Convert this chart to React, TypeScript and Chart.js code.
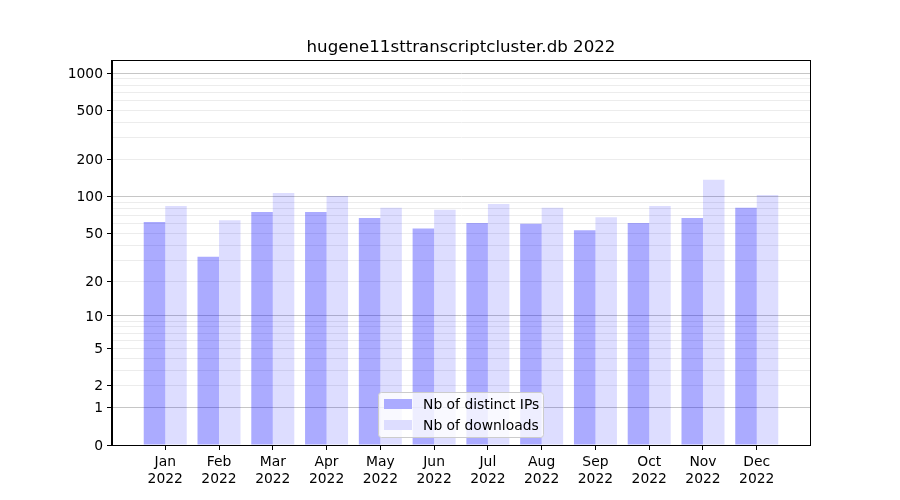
import React, { useEffect, useRef } from 'react';
import { Chart, registerables, LinearScale } from 'chart.js';

const TITLE = 'hugene11sttranscriptcluster.db 2022';
const MONTHS = ['Jan', 'Feb', 'Mar', 'Apr', 'May', 'Jun', 'Jul', 'Aug', 'Sep', 'Oct', 'Nov', 'Dec'];
const YEAR = '2022';
const DISTINCT_IPS = [62, 32, 75, 75, 67, 55, 61, 60, 53, 61, 67, 81];
const DOWNLOADS = [84, 64, 107, 101, 81, 78, 87, 81, 68, 84, 137, 103];
const SERIES_NAMES = ['Nb of distinct IPs', 'Nb of downloads'];
const Y_LABELED = [0, 1, 2, 5, 10, 20, 50, 100, 200, 500, 1000];
const Y_MAJOR_GRID = [1, 10, 100, 1000];
const Y_GRID = [0, 1, 2, 3, 4, 5, 6, 7, 8, 9, 10, 20, 30, 40, 50, 60, 70, 80, 90, 100, 200, 300, 400, 500, 600, 700, 800, 900, 1000];
const Y_MAX = 1279;

const BLUE = 'rgba(0,0,255,0.33)';
const LIGHT = 'rgba(0,0,255,0.135)';
const FONT = 'DejaVu Sans';

class Log1pScale extends LinearScale {
  static id = 'log1p';
  static defaults = {};
  configure() {
    super.configure();
    (this as any)._tStart = Math.log10(1 + (this as any).min);
    (this as any)._tRange = Math.log10(1 + (this as any).max) - (this as any)._tStart;
  }
  getPixelForValue(value: any) {
    if (value === undefined || value === null || isNaN(value)) return NaN;
    const t = (Math.log10(1 + value) - (this as any)._tStart) / (this as any)._tRange;
    return (this as any).getPixelForDecimal(t);
  }
  getValueForPixel(pixel: number) {
    const d = (this as any).getDecimalForPixel(pixel);
    return Math.pow(10, (this as any)._tStart + d * (this as any)._tRange) - 1;
  }
}

Chart.register(...registerables, Log1pScale as any);

const decorPlugin = {
  id: 'decor',
  afterDatasetsDraw(chart: any) {
    const { ctx, chartArea } = chart;
    const { left, right, top, bottom } = chartArea;
    ctx.save();
    ctx.strokeStyle = '#000';
    ctx.lineWidth = 1;
    ctx.strokeRect(Math.round(left) - 0.5, Math.round(top) + 0.5, Math.round(right - left) + 1, Math.round(bottom - top));
    ctx.restore();
  },
  afterDraw(chart: any) {
    const { ctx, chartArea } = chart;
    ctx.save();
    // title
    ctx.fillStyle = '#000';
    ctx.font = `16.67px "${FONT}"`;
    ctx.textAlign = 'center';
    ctx.textBaseline = 'alphabetic';
    ctx.fillText(TITLE, (chartArea.left + chartArea.right) / 2, 52);

    // legend
    const lx = 378.5, ly = 392.5, lw = 165, lh = 45;
    ctx.beginPath();
    ctx.roundRect(lx, ly, lw, lh, 3);
    ctx.fillStyle = 'rgba(255,255,255,0.8)';
    ctx.fill();
    ctx.strokeStyle = '#cccccc';
    ctx.lineWidth = 1;
    ctx.stroke();
    const colors = [BLUE, LIGHT];
    const rows = [399, 420];
    ctx.font = `13.89px "${FONT}"`;
    ctx.textAlign = 'left';
    for (let i = 0; i < 2; i++) {
      ctx.fillStyle = '#fff';
      ctx.fillRect(384, rows[i], 28, 10);
      ctx.fillStyle = colors[i];
      ctx.fillRect(384, rows[i], 28, 10);
      ctx.fillStyle = '#000';
      ctx.fillText(SERIES_NAMES[i], 423, rows[i] + 10);
    }
    ctx.restore();
  },
};

export default function App() {
  const ref = useRef<HTMLCanvasElement>(null);
  useEffect(() => {
    if (!ref.current) return;
    const chart = new Chart(ref.current, {
      type: 'bar',
      data: {
        datasets: [
          {
            label: SERIES_NAMES[0],
            data: DISTINCT_IPS.map((v, i) => ({ x: i, y: v })),
            backgroundColor: BLUE,
            borderWidth: 0,
            inflateAmount: 0,
            categoryPercentage: 0.8,
            barPercentage: 1.0,
          } as any,
          {
            label: SERIES_NAMES[1],
            data: DOWNLOADS.map((v, i) => ({ x: i, y: v })),
            backgroundColor: LIGHT,
            borderWidth: 0,
            inflateAmount: 0,
            categoryPercentage: 0.8,
            barPercentage: 1.0,
          } as any,
        ],
      },
      options: {
        animation: false,
        responsive: false,
        devicePixelRatio: 1,
        layout: { padding: { top: 60, right: 90, left: 0, bottom: 0 } },
        plugins: {
          legend: { display: false },
          title: { display: false },
          tooltip: { enabled: false },
        },
        scales: {
          x: {
            type: 'linear',
            min: -0.99,
            max: 11.99,
            bounds: 'data',
            offset: false,
            afterBuildTicks: (scale: any) => {
              scale.ticks = MONTHS.map((_, i) => ({ value: i }));
            },
            afterFit: (scale: any) => {
              scale.height = 55;
            },
            grid: {
              display: true,
              offset: false,
              drawOnChartArea: false,
              drawTicks: true,
              tickLength: 5,
              color: 'rgba(0,0,0,0)',
              tickColor: '#000',
            },
            border: { display: true, color: '#000', width: 1 },
            ticks: {
              autoSkip: false,
              maxRotation: 0,
              padding: 4,
              color: '#000',
              font: { family: FONT, size: 13.89, lineHeight: 1.2 },
              callback: (value: any) => [MONTHS[Math.round(value)], YEAR],
            },
          } as any,
          y: {
            type: 'log1p',
            min: 0,
            max: Y_MAX,
            bounds: 'data',
            afterBuildTicks: (scale: any) => {
              scale.ticks = Y_GRID.map((v) => ({ value: v }));
            },
            afterFit: (scale: any) => {
              scale.width = 112;
            },
            grid: {
              display: true,
              drawOnChartArea: true,
              drawTicks: true,
              tickLength: 5,
              lineWidth: 1,
              color: (c: any) => (c.tick && Y_MAJOR_GRID.includes(c.tick.value) ? '#c6c6c6' : '#ececec'),
              tickColor: (c: any) => (c.tick && Y_LABELED.includes(c.tick.value) ? '#000' : 'rgba(0,0,0,0)'),
            },
            border: { display: true, color: '#000', width: 1 },
            ticks: {
              autoSkip: false,
              padding: 4,
              labelOffset: 1,
              color: '#000',
              font: { family: FONT, size: 13.89 },
              callback: (value: any) => (Y_LABELED.includes(value) ? String(value) : ''),
            },
          } as any,
        },
      },
      plugins: [decorPlugin],
    });
    return () => chart.destroy();
  }, []);
  return (
    <div style={{ position: 'fixed', left: 0, top: 0, width: 900, height: 500, background: '#fff' }}>
      <canvas ref={ref} width={900} height={500} />
    </div>
  );
}
